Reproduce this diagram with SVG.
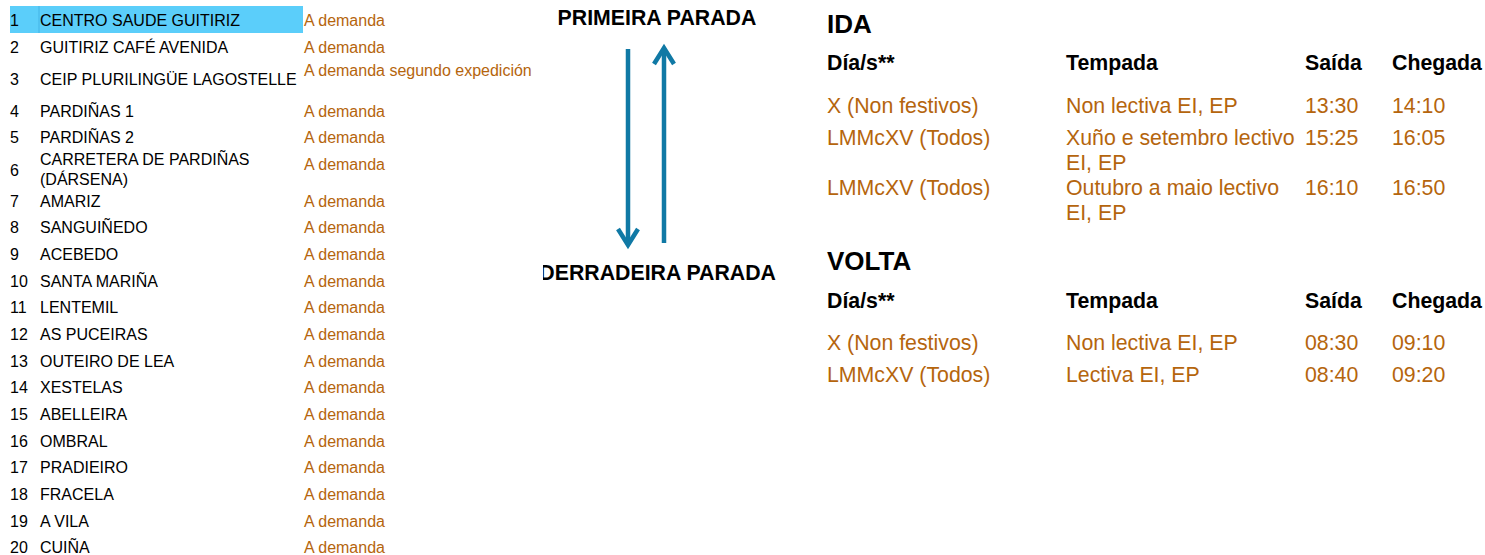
<svg xmlns="http://www.w3.org/2000/svg" width="1485" height="555" viewBox="0 0 1485 555">
<style>
text{font-family:"Liberation Sans",Arial,sans-serif}
.n{font-size:16px;fill:#000}
.o{font-size:16px;fill:#B5650D}
.h{font-size:21.3px;font-weight:bold;fill:#000}
.t{font-size:26px;font-weight:bold;fill:#000}
.v{font-size:21.3px;fill:#B5650D}
.ar{stroke:#1079A5;stroke-width:4.5;fill:none}
</style>
<defs>
<marker id="chev" markerUnits="userSpaceOnUse" viewBox="-4 -4 26 28" markerWidth="26" markerHeight="28" refX="14" refY="10" orient="auto">
<path d="M0,0 L16,10 L0,20" fill="none" stroke="#1079A5" stroke-width="4.5"/>
</marker>
<clipPath id="clipL"><rect x="543" y="250" width="300" height="50"/></clipPath>
</defs>
<rect width="1485" height="555" fill="#fff"/>
<g id="stops">
<rect x="10" y="6" width="293" height="27" fill="#5BCEFA"/>
<line x1="39" y1="6" x2="39" y2="33" stroke="#45B4E6" stroke-width="1"/>
<text class="n" x="10" y="26">1</text><text class="n" x="40" y="26">CENTRO SAUDE GUITIRIZ</text><text class="o" x="304" y="26">A demanda</text>
<text class="n" x="10" y="53">2</text><text class="n" x="40" y="53">GUITIRIZ CAFÉ AVENIDA</text><text class="o" x="304" y="53">A demanda</text>
<text class="n" x="10" y="85">3</text><text class="n" x="40" y="85">CEIP PLURILINGÜE LAGOSTELLE</text><text class="o" x="304" y="76">A demanda segundo expedición</text>
<text class="n" x="10" y="117">4</text><text class="n" x="40" y="117">PARDIÑAS 1</text><text class="o" x="304" y="117">A demanda</text>
<text class="n" x="10" y="143">5</text><text class="n" x="40" y="143">PARDIÑAS 2</text><text class="o" x="304" y="143">A demanda</text>
<text class="n" x="10" y="176">6</text><text class="n" x="40" y="165">CARRETERA DE PARDIÑAS</text><text class="n" x="40" y="185">(DÁRSENA)</text><text class="o" x="304" y="170">A demanda</text>
<text class="n" x="10" y="207">7</text><text class="n" x="40" y="207">AMARIZ</text><text class="o" x="304" y="207">A demanda</text>
<text class="n" x="10" y="233">8</text><text class="n" x="40" y="233">SANGUIÑEDO</text><text class="o" x="304" y="233">A demanda</text>
<text class="n" x="10" y="260">9</text><text class="n" x="40" y="260">ACEBEDO</text><text class="o" x="304" y="260">A demanda</text>
<text class="n" x="10" y="287">10</text><text class="n" x="40" y="287">SANTA MARIÑA</text><text class="o" x="304" y="287">A demanda</text>
<text class="n" x="10" y="313">11</text><text class="n" x="40" y="313">LENTEMIL</text><text class="o" x="304" y="313">A demanda</text>
<text class="n" x="10" y="340">12</text><text class="n" x="40" y="340">AS PUCEIRAS</text><text class="o" x="304" y="340">A demanda</text>
<text class="n" x="10" y="367">13</text><text class="n" x="40" y="367">OUTEIRO DE LEA</text><text class="o" x="304" y="367">A demanda</text>
<text class="n" x="10" y="393">14</text><text class="n" x="40" y="393">XESTELAS</text><text class="o" x="304" y="393">A demanda</text>
<text class="n" x="10" y="420">15</text><text class="n" x="40" y="420">ABELLEIRA</text><text class="o" x="304" y="420">A demanda</text>
<text class="n" x="10" y="447">16</text><text class="n" x="40" y="447">OMBRAL</text><text class="o" x="304" y="447">A demanda</text>
<text class="n" x="10" y="473">17</text><text class="n" x="40" y="473">PRADIEIRO</text><text class="o" x="304" y="473">A demanda</text>
<text class="n" x="10" y="500">18</text><text class="n" x="40" y="500">FRACELA</text><text class="o" x="304" y="500">A demanda</text>
<text class="n" x="10" y="527">19</text><text class="n" x="40" y="527">A VILA</text><text class="o" x="304" y="527">A demanda</text>
<text class="n" x="10" y="553">20</text><text class="n" x="40" y="553">CUIÑA</text><text class="o" x="304" y="553">A demanda</text>
</g>
<g id="first-stop"><text class="h" x="657" y="25" text-anchor="middle">PRIMEIRA PARADA</text></g>
<g id="last-stop" clip-path="url(#clipL)"><text class="h" x="776" y="280" text-anchor="end">DERRADEIRA PARADA</text></g>
<g id="connectors">
<line class="ar" x1="628" y1="49" x2="628" y2="243" marker-end="url(#chev)"/>
<line class="ar" x1="664" y1="243" x2="664" y2="50" marker-end="url(#chev)"/>
</g>
<g id="ida">
<text class="t" x="827" y="33">IDA</text>
<text class="h" x="827" y="70">Día/s**</text><text class="h" x="1066" y="70">Tempada</text><text class="h" x="1305" y="70">Saída</text><text class="h" x="1392" y="70">Chegada</text>
<text class="v" x="827" y="113">X (Non festivos)</text><text class="v" x="1066" y="113">Non lectiva EI, EP</text><text class="v" x="1305" y="113">13:30</text><text class="v" x="1392" y="113">14:10</text>
<text class="v" x="827" y="145">LMMcXV (Todos)</text><text class="v" x="1066" y="145">Xuño e setembro lectivo</text><text class="v" x="1066" y="170">EI, EP</text><text class="v" x="1305" y="145">15:25</text><text class="v" x="1392" y="145">16:05</text>
<text class="v" x="827" y="195">LMMcXV (Todos)</text><text class="v" x="1066" y="195">Outubro a maio lectivo</text><text class="v" x="1066" y="220">EI, EP</text><text class="v" x="1305" y="195">16:10</text><text class="v" x="1392" y="195">16:50</text>
</g>
<g id="volta">
<text class="t" x="827" y="270">VOLTA</text>
<text class="h" x="827" y="308">Día/s**</text><text class="h" x="1066" y="308">Tempada</text><text class="h" x="1305" y="308">Saída</text><text class="h" x="1392" y="308">Chegada</text>
<text class="v" x="827" y="350">X (Non festivos)</text><text class="v" x="1066" y="350">Non lectiva EI, EP</text><text class="v" x="1305" y="350">08:30</text><text class="v" x="1392" y="350">09:10</text>
<text class="v" x="827" y="382">LMMcXV (Todos)</text><text class="v" x="1066" y="382">Lectiva EI, EP</text><text class="v" x="1305" y="382">08:40</text><text class="v" x="1392" y="382">09:20</text>
</g>
</svg>
